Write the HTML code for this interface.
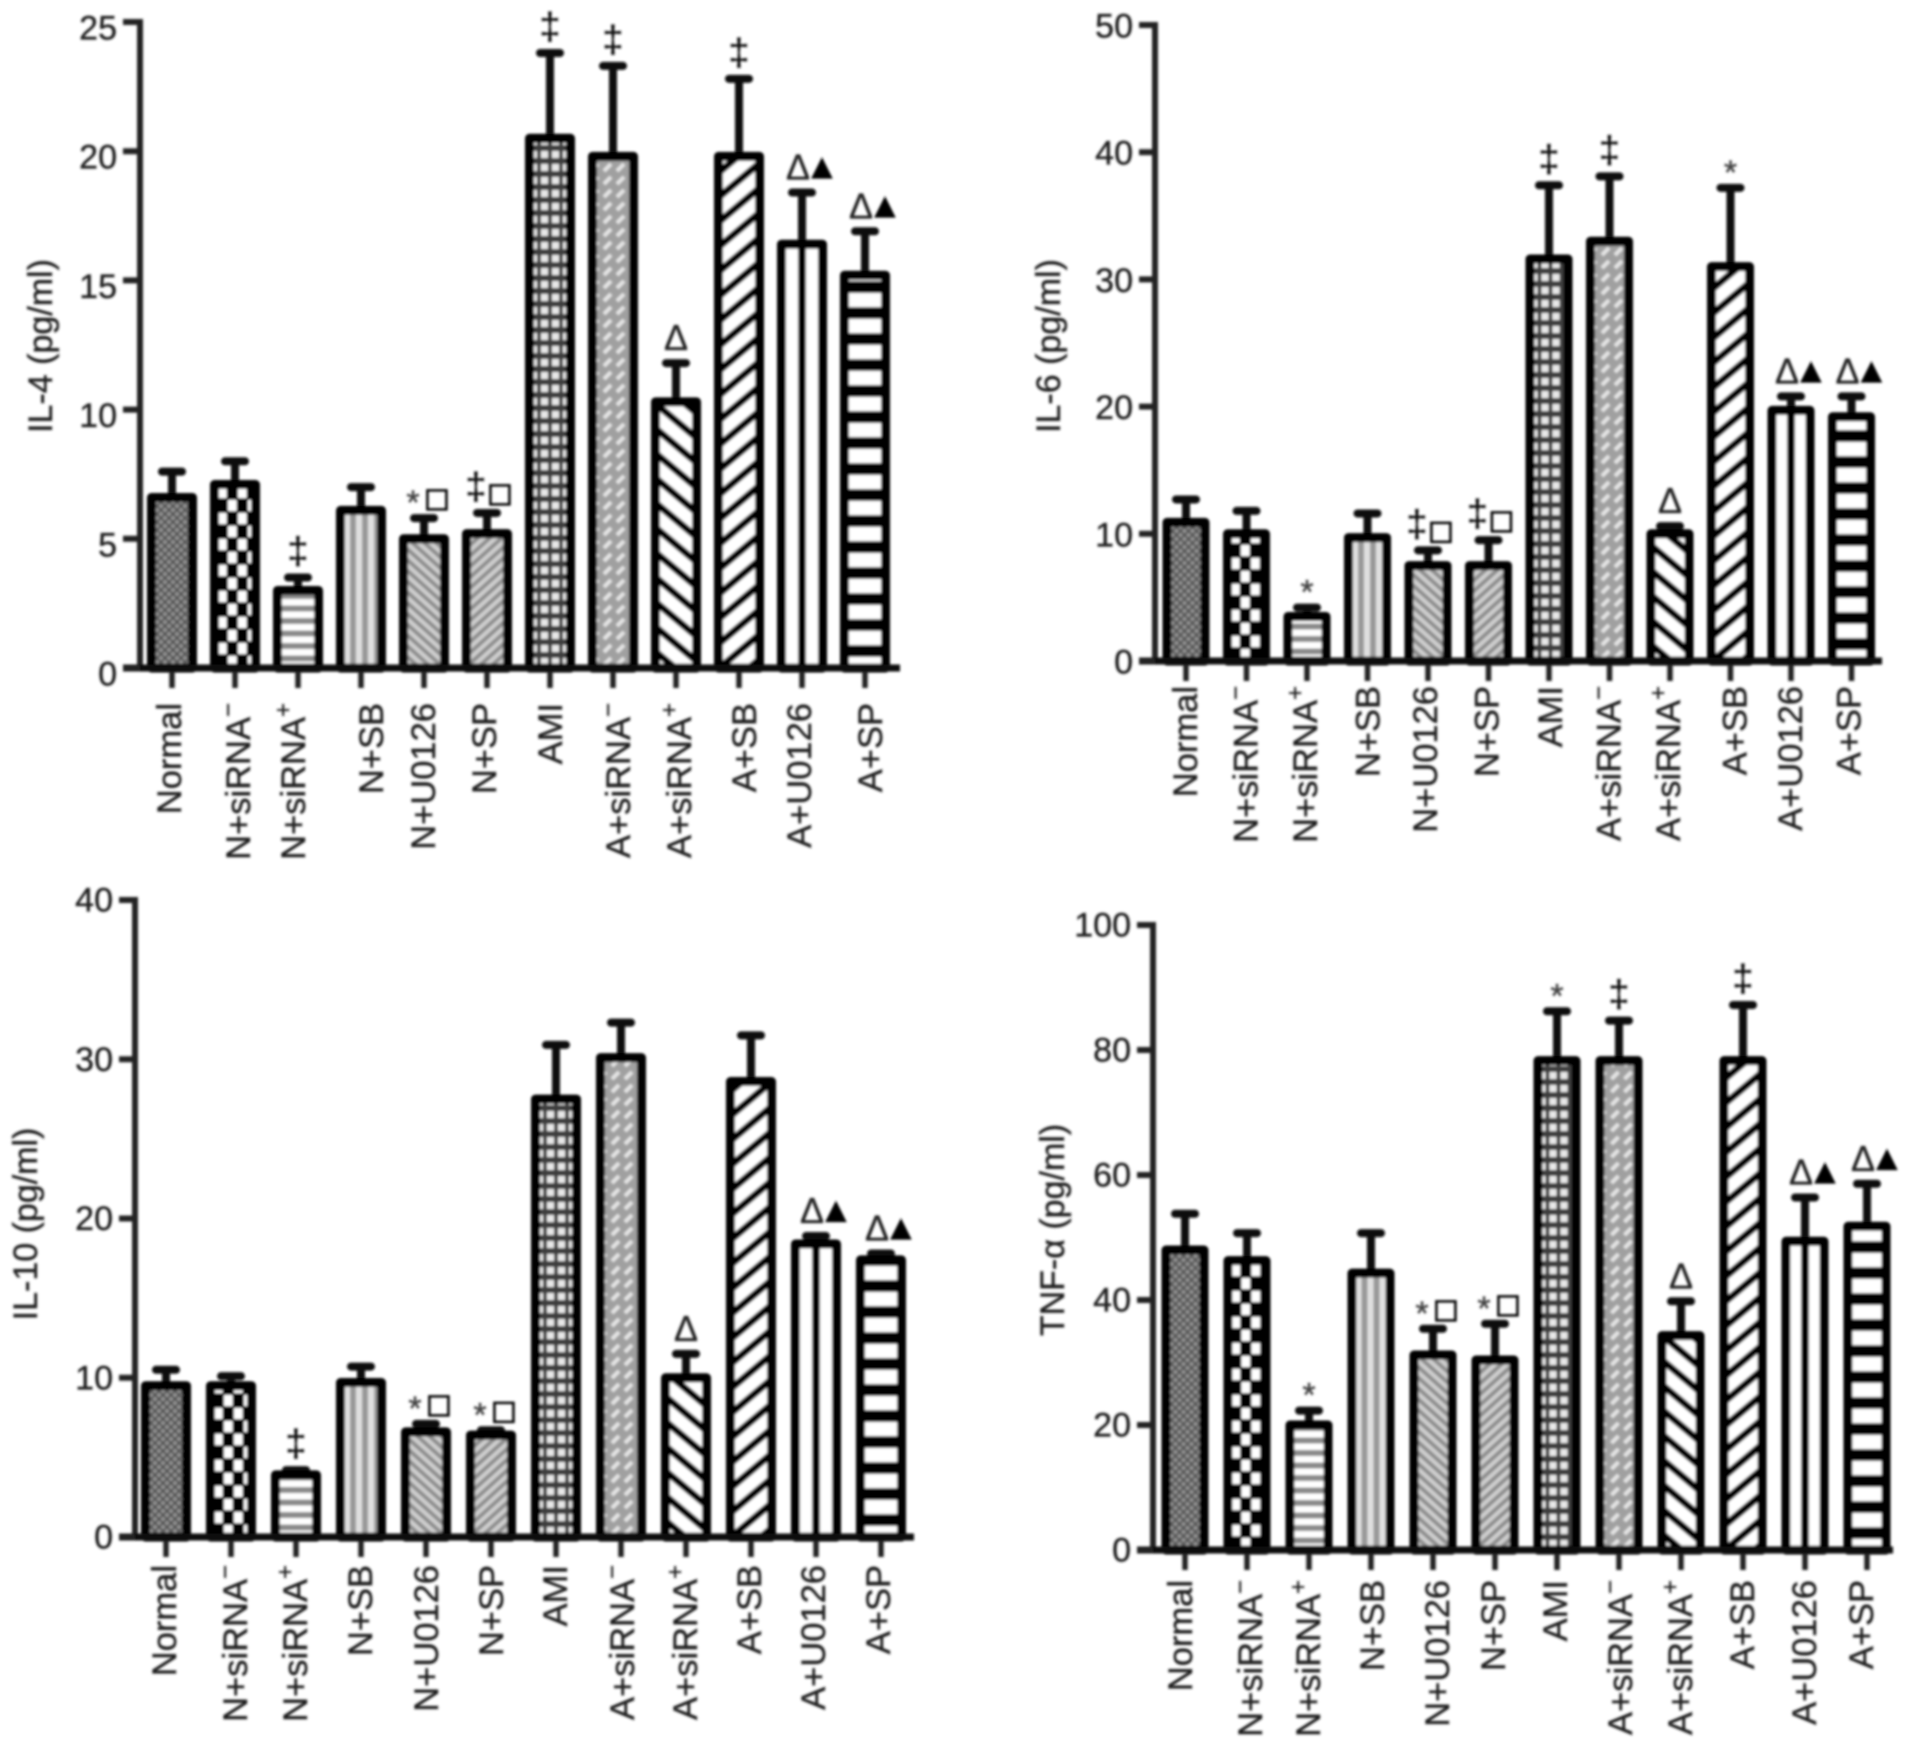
<!DOCTYPE html>
<html lang="en">
<head>
<meta charset="utf-8">
<title>Cytokine levels by treatment group</title>
<style>
html,body{margin:0;padding:0;background:#fff;width:1913px;height:1745px;overflow:hidden}
svg{display:block}
text{font-family:"Liberation Sans","DejaVu Sans",sans-serif;fill:#1c1c1c;stroke:#222;stroke-width:.35}
</style>
</head>
<body>
<svg id="figure" xmlns="http://www.w3.org/2000/svg" width="1913" height="1745" viewBox="0 0 1913 1745">
<defs>
<filter id="soft" x="-2%" y="-2%" width="104%" height="104%"><feGaussianBlur stdDeviation="1.4"/></filter>
<pattern id="fill-0" width="8" height="8" patternUnits="userSpaceOnUse"><rect width="8" height="8" fill="#5c5c5c"/><circle cx="2" cy="2" r="1.8" fill="#9a9a9a"/><circle cx="6" cy="6" r="1.8" fill="#9a9a9a"/></pattern>
<pattern id="fill-1" width="20" height="26" patternUnits="userSpaceOnUse" x="7"><rect width="20" height="26" fill="#000"/><rect x="1" y="1" width="8.5" height="11" fill="#fff"/><rect x="11" y="14" width="8.5" height="11" fill="#fff"/></pattern>
<pattern id="fill-2" width="12.5" height="12.5" patternUnits="userSpaceOnUse"><rect width="12.5" height="12.5" fill="#fff"/><rect y="0" width="12.5" height="6" fill="#8a8a8a"/></pattern>
<pattern id="fill-3" width="12" height="10" patternUnits="userSpaceOnUse" x="2"><rect width="12" height="10" fill="#e0e0e0"/><rect width="6" height="10" fill="#999"/></pattern>
<pattern id="fill-4" width="8" height="8" patternUnits="userSpaceOnUse" patternTransform="rotate(42)"><rect width="8" height="8" fill="#cfcfcf"/><rect width="8" height="4" fill="#8e8e8e"/></pattern>
<pattern id="fill-5" width="8" height="8" patternUnits="userSpaceOnUse" patternTransform="rotate(-42)"><rect width="8" height="8" fill="#cfcfcf"/><rect width="8" height="4" fill="#8e8e8e"/></pattern>
<pattern id="fill-6" width="11" height="13" patternUnits="userSpaceOnUse" x="3"><rect width="11" height="13" fill="#3d3d3d"/><rect x="2" y="3" width="7" height="7" fill="#e8e8e8"/></pattern>
<pattern id="fill-7" width="13" height="13" patternUnits="userSpaceOnUse"><rect width="13" height="13" fill="#a0a0a0"/><line x1="3" y1="10" x2="10" y2="3" stroke="#e4e4e4" stroke-width="4"/></pattern>
<pattern id="fill-8" width="19" height="19" patternUnits="userSpaceOnUse" patternTransform="rotate(40)"><rect width="19" height="19" fill="#fff"/><rect width="19" height="7" fill="#000"/></pattern>
<pattern id="fill-9" width="19" height="19" patternUnits="userSpaceOnUse" patternTransform="rotate(-40)"><rect width="19" height="19" fill="#fff"/><rect width="19" height="7" fill="#000"/></pattern>
<pattern id="fill-10" width="40" height="40" patternUnits="userSpaceOnUse"><rect width="40" height="40" fill="#fff"/></pattern>
<pattern id="fill-11" width="26" height="26" patternUnits="userSpaceOnUse"><rect width="26" height="26" fill="#fff"/><rect y="3" width="26" height="12" fill="#000"/></pattern>
</defs>
<g id="root" filter="url(#soft)"></g>
</svg>
<script>
const categories = ["Normal", "N+siRNA", "N+siRNA", "N+SB", "N+U0126", "N+SP", "AMI", "A+siRNA", "A+siRNA", "A+SB", "A+U0126", "A+SP"];
const categorySuperscripts = ["", "\u2212", "+", "", "", "", "", "\u2212", "+", "", "", ""];

const il4Values = [6.6, 7.1, 3.0, 6.1, 5.0, 5.2, 20.5, 19.8, 10.3, 19.8, 16.4, 15.2];
const il4ErrorTops = [7.6, 8.0, 3.5, 7.0, 5.8, 6.0, 23.8, 23.3, 11.8, 22.8, 18.4, 16.9];
const il4Ticks = [0, 5, 10, 15, 20, 25];
const il4Marks = ["", "", "\u2021", "", "*\u25A1", "\u2021\u25A1", "\u2021", "\u2021", "\u0394", "\u2021", "\u0394\u25B2", "\u0394\u25B2"];

const il6Values = [10.9, 10.0, 3.5, 9.7, 7.5, 7.5, 31.6, 33.0, 10.0, 31.0, 19.7, 19.2];
const il6ErrorTops = [12.7, 11.8, 4.2, 11.6, 8.7, 9.5, 37.4, 38.1, 10.6, 37.2, 20.8, 20.8];
const il6Ticks = [0, 10, 20, 30, 40, 50];
const il6Marks = ["", "", "*", "", "\u2021\u25A1", "\u2021\u25A1", "\u2021", "\u2021", "\u0394", "*", "\u0394\u25B2", "\u0394\u25B2"];

const il10Values = [9.5, 9.5, 3.9, 9.7, 6.6, 6.4, 27.5, 30.1, 10.0, 28.6, 18.4, 17.4];
const il10ErrorTops = [10.5, 10.1, 4.2, 10.7, 7.1, 6.7, 30.9, 32.3, 11.5, 31.5, 18.9, 17.8];
const il10Ticks = [0, 10, 20, 30, 40];
const il10Marks = ["", "", "\u2021", "", "*\u25A1", "*\u25A1", "", "", "\u0394", "", "\u0394\u25B2", "\u0394\u25B2"];

const tnfValues = [48.0, 46.3, 20.0, 44.3, 31.2, 30.4, 78.3, 78.3, 34.3, 78.3, 49.4, 51.8];
const tnfErrorTops = [53.8, 50.7, 22.3, 50.7, 35.4, 36.2, 86.2, 84.7, 39.8, 87.2, 56.4, 58.6];
const tnfTicks = [0, 20, 40, 60, 80, 100];
const tnfMarks = ["", "", "*", "", "*\u25A1", "*\u25A1", "*", "\u2021", "\u0394", "\u2021", "\u0394\u25B2", "\u0394\u25B2"];

const panels = [
  {id: "il4", title: "IL-4 (pg/ml)", values: il4Values, errs: il4ErrorTops, ticks: il4Ticks, marks: il4Marks,
   axisX: 140, top: 22, base: 668, yMax: 25, first: 172, step: 63, barW: 50, right: 900, tickLeft: 123, labelTop: 703, titleX: 52, titleY: 346, tickDy: 6,
   labelDx: [-2, 4, -4, 11, 0, -2, 1, 6, 4, 6, -2, 6]},
  {id: "il6", title: "IL-6 (pg/ml)", values: il6Values, errs: il6ErrorTops, ticks: il6Ticks, marks: il6Marks,
   axisX: 1155, top: 25, base: 661, yMax: 50, first: 1186, step: 60.5, barW: 47, right: 1882, tickLeft: 1139, labelTop: 686, titleX: 1060, titleY: 346, tickDy: 1,
   labelDx: [0, 0, -1, 1, -2, -1, 2, 0, -1, 5, 0, -2]},
  {id: "il10", title: "IL-10 (pg/ml)", values: il10Values, errs: il10ErrorTops, ticks: il10Ticks, marks: il10Marks,
   axisX: 135, top: 900, base: 1537, yMax: 40, first: 166, step: 65, barW: 50, right: 914, tickLeft: 119, labelTop: 1565, titleX: 37, titleY: 1224, tickDy: 0,
   labelDx: [-1, 5, 0, 0, 1, 1, 0, 2, 0, -1, -2, -2]},
  {id: "tnf", title: "TNF-\u03B1 (pg/ml)", values: tnfValues, errs: tnfErrorTops, ticks: tnfTicks, marks: tnfMarks,
   axisX: 1153, top: 925, base: 1550, yMax: 100, first: 1185, step: 62, barW: 47, right: 1893, tickLeft: 1137, labelTop: 1580, titleX: 1064, titleY: 1230, tickDy: 0,
   labelDx: [-4, 4, 0, 2, 5, -1, -1, 2, 0, 0, 0, -5]}
];

const NS = "http://www.w3.org/2000/svg";
const root = document.getElementById("root");

function make(tag, attrs, parent) {
  const node = document.createElementNS(NS, tag);
  for (const k in attrs) node.setAttribute(k, attrs[k]);
  parent.appendChild(node);
  return node;
}
function yScale(p, v) { return p.base - (v / p.yMax) * (p.base - p.top); }
function xScale(p, i) { return p.first + i * p.step; }

panels.forEach(function (p) {
  const g = make("g", {}, root);
  
  

  p.values.forEach(function (v, i) {
    const cx = xScale(p, i), top = yScale(p, v), et = yScale(p, p.errs[i]);
    const stem = make("line", {x1: cx, x2: cx, y1: top, y2: et, stroke: "#111", "stroke-width": 8}, g);
    
    
    const cap = make("line", {x1: cx - 10, x2: cx + 10, y1: et, y2: et, stroke: "#111", "stroke-width": 8, "stroke-linecap": "round"}, g);
    
    

    const barG = make("g", {transform: "translate(" + (cx - p.barW / 2) + " " + p.base + ")"}, g);
    const h = p.base - top;
    const bar = make("rect", {x: 4.5, y: -h, width: p.barW - 9, height: h, fill: "url(#fill-" + i + ")", stroke: "#000", "stroke-width": 9, "stroke-linejoin": "round"}, barG);
    
    
    if (i === 10) {
      const mid = make("rect", {x: p.barW / 2 - 4, y: -h, width: 8, height: h, fill: "#000"}, barG);
      
      
    }

    const tick = make("line", {x1: cx, x2: cx, y1: p.base, y2: p.base + 20, stroke: "#222", "stroke-width": 5.5}, g);
    
    

    const lx = cx + 11 + p.labelDx[i];
    const label = make("text", {x: lx, y: p.labelTop, "text-anchor": "end", "font-size": 34.5, transform: "rotate(-90 " + lx + " " + p.labelTop + ")"}, g);
    
    
    label.appendChild(document.createTextNode(categories[i]));
    if (categorySuperscripts[i]) {
      const sup = make("tspan", {dy: -14, "font-size": 24}, label);
      
      
      sup.textContent = categorySuperscripts[i];
    }

    const sym = Array.from(p.marks[i]);
    sym.forEach(function (s, k) {
      let dx = 0;
      if (sym.length === 2) {
        if (sym[0] === "\u0394") dx = k === 0 ? -4 : 20;
        else dx = k === 0 ? -11 : 13;
      }
      let size = 38, dy = -14, fam = '"Liberation Sans",sans-serif', css = "fill:#111";
      if (s === "*") { size = 34; dy = -4; css = "fill:#444"; }
      if (s === "\u0394") { size = 36; dy = -13; fam = '"Liberation Serif",serif'; css = "fill:#222"; }
      if (s === "\u25B2") { size = 36; dy = -14; fam = '"DejaVu Sans",sans-serif'; css = "fill:#000"; }
      if (s === "\u25A1") { size = 34; dy = -8; fam = '"DejaVu Sans",sans-serif'; css = "fill:#000;stroke:#000;stroke-width:1.3"; }
      const mark = make("text", {x: cx + dx, y: et + dy, "text-anchor": "middle", "font-size": size, "font-family": fam, style: css}, g);
      
      
      mark.textContent = s;
    });
  });

  const yAxis = make("line", {x1: p.axisX, x2: p.axisX, y1: p.top - 3, y2: p.base, stroke: "#222", "stroke-width": 6}, g);
  
  
  const xAxis = make("line", {x1: p.tickLeft, x2: p.right, y1: p.base, y2: p.base, stroke: "#111", "stroke-width": 7}, g);
  
  

  p.ticks.forEach(function (t) {
    const ty = yScale(p, t);
    const tm = make("line", {x1: p.tickLeft, x2: p.axisX, y1: ty, y2: ty, stroke: "#222", "stroke-width": 6}, g);
    
    
    const tl = make("text", {x: p.tickLeft - 6, y: ty + 11.5 + p.tickDy, "text-anchor": "end", "font-size": 34}, g);
    
    
    tl.textContent = t;
  });

  const title = make("text", {x: p.titleX, y: p.titleY, "text-anchor": "middle", "font-size": 34, transform: "rotate(-90 " + p.titleX + " " + p.titleY + ")"}, g);
  
  
  title.textContent = p.title;
});
</script>
</body>
</html>
